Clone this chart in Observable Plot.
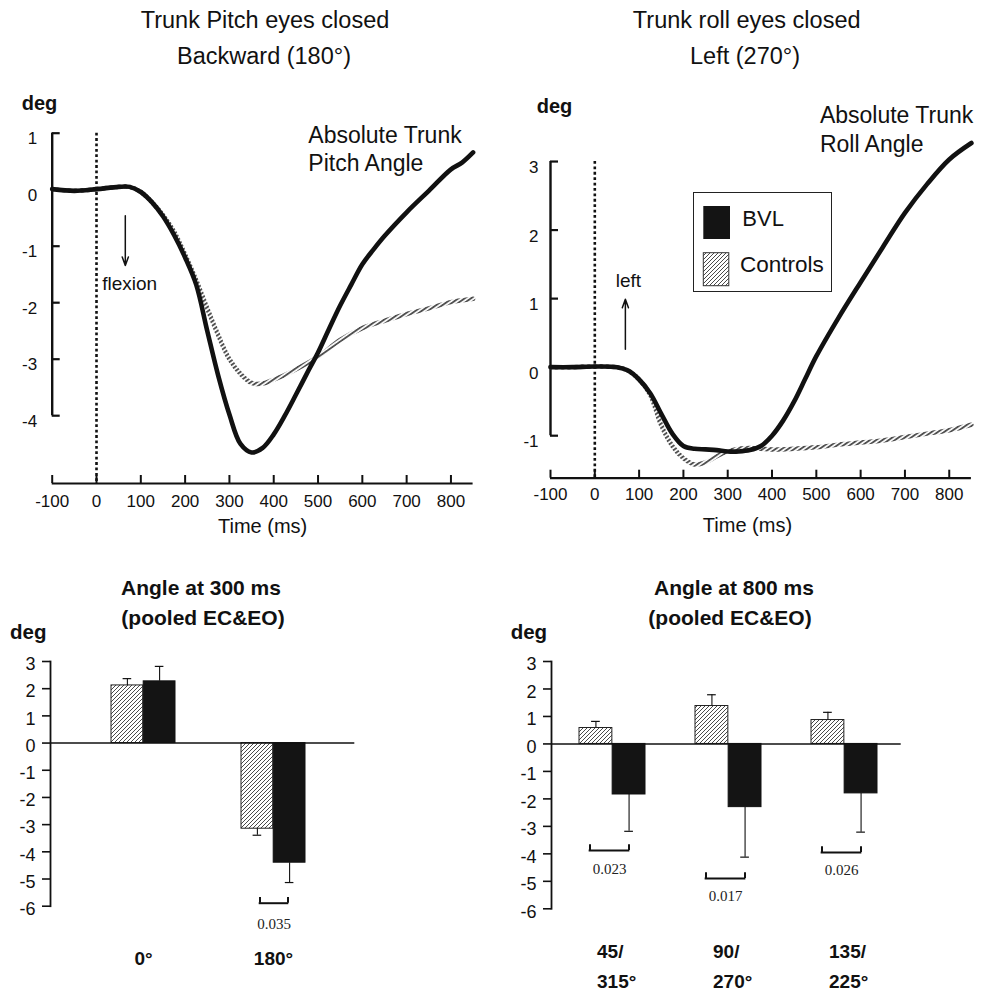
<!DOCTYPE html>
<html>
<head>
<meta charset="utf-8">
<script src="https://cdn.jsdelivr.net/npm/d3@7"></script>
<script src="https://cdn.jsdelivr.net/npm/@observablehq/plot@0.6"></script>
<style>
  body { margin: 0; background: #fff; font-family: "Liberation Sans", Arial, Helvetica, sans-serif; color: #111; }
  #root { position: relative; width: 983px; height: 993px; overflow: hidden; background: #fff; }
  .abs { position: absolute; white-space: nowrap; }
  .panel { position: absolute; }
  .panel svg { overflow: visible; }
</style>
</head>
<body>
<div id="root"></div>
<script>
// ================= DATA =================
// Top-left: trunk pitch (eyes closed, backward 180°)
const pitchBvlT = [-100,-50,0,50,75,100,125,150,175,200,225,250,275,300,325,350,375,400,425,450,475,500,525,550,575,600,625,650,700,750,800,825,850];
const pitchBvl  = [0.01,-0.02,0.01,0.05,0.05,-0.04,-0.22,-0.47,-0.8,-1.2,-1.68,-2.5,-3.3,-3.98,-4.5,-4.65,-4.57,-4.33,-4.0,-3.63,-3.25,-2.88,-2.46,-2.05,-1.68,-1.32,-1.06,-0.82,-0.4,-0.02,0.36,0.48,0.66];
const pitchCtrlT = [-100,-50,0,50,75,100,125,150,175,200,225,250,275,300,325,350,375,400,425,450,500,550,600,650,700,750,800,850];
const pitchCtrl  = [0.01,-0.02,0.01,0.05,0.05,-0.04,-0.22,-0.45,-0.74,-1.15,-1.6,-2.1,-2.58,-3.0,-3.26,-3.42,-3.43,-3.36,-3.28,-3.18,-2.96,-2.66,-2.45,-2.32,-2.2,-2.1,-1.99,-1.93];

// Top-right: trunk roll (eyes closed, left 270°)
const rollBvlT = [-100,-50,0,50,75,100,125,150,175,200,225,250,275,300,325,350,375,400,425,450,475,500,550,600,650,700,750,800,850];
const rollBvl  = [0,0,0.01,0,-0.05,-0.18,-0.38,-0.68,-0.97,-1.15,-1.19,-1.2,-1.21,-1.23,-1.23,-1.21,-1.15,-1.0,-0.78,-0.5,-0.17,0.16,0.72,1.24,1.75,2.25,2.67,3.03,3.27];
const rollCtrlT = [-100,-50,0,50,75,100,125,150,175,200,225,250,275,300,325,350,400,450,500,550,600,650,700,750,800,850];
const rollCtrl  = [0,0,0.01,0,-0.05,-0.18,-0.4,-0.85,-1.15,-1.33,-1.42,-1.39,-1.3,-1.23,-1.19,-1.18,-1.2,-1.19,-1.17,-1.13,-1.1,-1.07,-1.02,-0.97,-0.92,-0.84];

// Ticks
const timeTicks   = [-100,0,100,200,300,400,500,600,700,800];
const pitchYTicks = [1,0,-1,-2,-3,-4];
const rollYTicks  = [3,2,1,0,-1];
const barYTicks   = [3,2,1,0,-1,-2,-3,-4,-5,-6];
const fmt = d => String(d);   // plain hyphen-minus, no decimals

// Bottom-left: angle at 300 ms
const groups300   = ["0°","180°"];
const ctrl300     = [2.12,-3.15];
const ctrlErr300  = [0.25,0.24];
const bvl300      = [2.27,-4.40];
const bvlErr300   = [0.55,0.73];
const pGroups300  = ["180°"];
const pValues300  = ["0.035"];
const pBarY300    = [-5.89];
const pTextY300   = [-6.65];

// Bottom-right: angle at 800 ms
const groups800   = ["45/\n315°","90/\n270°","135/\n225°"];
const ctrl800     = [0.58,1.38,0.87];
const ctrlErr800  = [0.24,0.41,0.28];
const bvl800      = [-1.84,-2.30,-1.80];
const bvlErr800   = [1.34,1.82,1.41];
const pGroups800  = groups800;
const pValues800  = ["0.023","0.017","0.026"];
const pBarY800    = [-3.88,-4.90,-3.95];
const pTextY800   = [-4.57,-5.55,-4.58];

// ================= SETUP =================
const FONT = '"Liberation Sans", Arial, Helvetica, sans-serif';
const root = document.getElementById("root");
const baseStyle = {fontFamily: FONT, color: "#111", background: "transparent", overflow: "visible"};

// shared patterns
const defsSvg = d3.create("svg").attr("width", 0).attr("height", 0)
  .style("position", "absolute").style("left", 0).style("top", 0);
const defs = defsSvg.append("defs");
const hb = defs.append("pattern").attr("id", "hatchBar").attr("patternUnits", "userSpaceOnUse")
  .attr("width", 4).attr("height", 4);
hb.append("rect").attr("width", 4).attr("height", 4).attr("fill", "#fff");
hb.append("path").attr("d", "M-1,1 l2,-2 M0,4 l4,-4 M3,5 l2,-2").attr("stroke", "#4a4a4a").attr("stroke-width", 1);
const hl = defs.append("pattern").attr("id", "hatchLine").attr("patternUnits", "userSpaceOnUse")
  .attr("width", 3.6).attr("height", 3.6).attr("patternTransform", "rotate(-35)");
hl.append("rect").attr("width", 3.6).attr("height", 1.9).attr("fill", "#505050");
root.appendChild(defsSvg.node());

function place(svg, left, top, w, h) {
  const wrap = document.createElement("div");
  wrap.className = "panel";
  wrap.style.left = left + "px"; wrap.style.top = top + "px";
  wrap.style.width = w + "px"; wrap.style.height = h + "px";
  wrap.appendChild(svg);
  root.appendChild(wrap);
}

function label(txt, x, baseline, fs, opt = {}) {
  const el = document.createElement("div");
  el.className = "abs";
  el.textContent = txt;
  el.style.fontSize = fs + "px";
  el.style.lineHeight = fs + "px";
  el.style.top = (baseline - 0.8465 * fs) + "px";
  el.style.left = x + "px";
  if (opt.anchor === "middle") el.style.transform = "translateX(-50%)";
  if (opt.weight) el.style.fontWeight = opt.weight;
  if (opt.family) el.style.fontFamily = opt.family;
  root.appendChild(el);
}

// ================= PANEL 1: pitch =================
{
  const W = 490, H = 460, mL = 51.7, mR = 17.4, mT = 31.4, mB = 67;
  const yDom = [-5.2, 1.2];
  const fw = W - mL - mR, fh = H - mT - mB;
  const svg = Plot.plot({
    width: W, height: H, marginLeft: mL, marginRight: mR, marginTop: mT, marginBottom: mB,
    x: {domain: [-100, 850]},
    y: {domain: yDom},
    style: baseStyle,
    marks: [
      Plot.ruleX([0], {y1: d3.max(pitchYTicks), y2: yDom[0], stroke: "#111", strokeWidth: 2.6, strokeDasharray: "2.8,2.6"}),
      Plot.ruleX([timeTicks[0]], {y1: d3.min(pitchYTicks), y2: d3.max(pitchYTicks), stroke: "#111", strokeWidth: 2.4}),
      Plot.tickY(pitchYTicks, {y: d => d, stroke: "#111", strokeWidth: 2.2, insetRight: fw - 8}),
      Plot.ruleY([yDom[0]], {stroke: "#111", strokeWidth: 2.2}),
      Plot.tickX(timeTicks, {x: d => d, stroke: "#111", strokeWidth: 2, insetTop: fh - 8}),
      Plot.axisX(timeTicks, {tickSize: 0, tickPadding: 11, fontSize: 17, label: null, tickFormat: fmt}),
      Plot.axisY(pitchYTicks, {tickSize: 0, tickPadding: 15, fontSize: 17, label: null, dy: 5.5, tickFormat: fmt}),
      Plot.line(pitchCtrl, {x: pitchCtrlT, y: pitchCtrl, stroke: "url(#hatchLine)", strokeWidth: 4.5, curve: "catmull-rom"}),
      Plot.line(pitchBvl, {x: pitchBvlT, y: pitchBvl, stroke: "#111", strokeWidth: 4.6, curve: "catmull-rom"}),
      Plot.arrow([0], {x1: 65, y1: -0.46, x2: 65, y2: -1.34, stroke: "#111", strokeWidth: 1.5, headLength: 9, headAngle: 40}),
      Plot.text(["flexion"], {x: 13, y: -1.67, text: d => d, textAnchor: "start", fontSize: 19, fill: "#111"}),
      Plot.text(["Absolute Trunk\nPitch Angle"], {x: 478, y: 1.17, text: d => d, textAnchor: "start", lineAnchor: "top", lineHeight: 1.2, fontSize: 23, fill: "#111"}),
      Plot.text(["Time (ms)"], {text: d => d, frameAnchor: "bottom", dy: 49, fontSize: 20, fill: "#111"})
    ]
  });
  place(svg, 0, 90, W, H);
}

// ================= PANEL 2: roll =================
{
  const W = 493, H = 470, mL = 60, mR = 12.1, mT = 26.2, mB = 72.3;
  const yDom = [-1.62, 3.8];
  const fw = W - mL - mR, fh = H - mT - mB;
  const svg = Plot.plot({
    width: W, height: H, marginLeft: mL, marginRight: mR, marginTop: mT, marginBottom: mB,
    x: {domain: [-100, 850]},
    y: {domain: yDom},
    style: baseStyle,
    marks: [
      Plot.ruleX([0], {y1: d3.max(rollYTicks), y2: yDom[0], stroke: "#111", strokeWidth: 2.6, strokeDasharray: "2.8,2.6"}),
      Plot.ruleX([timeTicks[0]], {y1: d3.min(rollYTicks), y2: d3.max(rollYTicks), stroke: "#111", strokeWidth: 2.4}),
      Plot.tickY(rollYTicks, {y: d => d, stroke: "#111", strokeWidth: 2.2, insetRight: fw - 8}),
      Plot.ruleY([yDom[0]], {stroke: "#111", strokeWidth: 2.2}),
      Plot.tickX(timeTicks, {x: d => d, stroke: "#111", strokeWidth: 2, insetTop: fh - 8}),
      Plot.axisX(timeTicks, {tickSize: 0, tickPadding: 9.5, fontSize: 17, label: null, tickFormat: fmt}),
      Plot.axisY(rollYTicks, {tickSize: 0, tickPadding: 12, fontSize: 17, label: null, dy: 6, tickFormat: fmt}),
      Plot.line(rollCtrl, {x: rollCtrlT, y: rollCtrl, stroke: "url(#hatchLine)", strokeWidth: 4.5, curve: "catmull-rom"}),
      Plot.line(rollBvl, {x: rollBvlT, y: rollBvl, stroke: "#111", strokeWidth: 4.6, curve: "catmull-rom"}),
      Plot.arrow([0], {x1: 69, y1: 0.26, x2: 69, y2: 0.99, stroke: "#111", strokeWidth: 1.5, headLength: 9, headAngle: 40}),
      Plot.text(["left"], {x: 76, y: 1.26, text: d => d, fontSize: 19, fill: "#111"}),
      Plot.text(["Absolute Trunk\nRoll Angle"], {x: 508, y: 3.85, text: d => d, textAnchor: "start", lineAnchor: "top", lineHeight: 1.23, fontSize: 23, fill: "#111"}),
      Plot.text(["Time (ms)"], {text: d => d, frameAnchor: "bottom", dy: 54, dx: -13.5, fontSize: 20, fill: "#111"})
    ]
  });
  place(svg, 490, 80, W, H);
}

// ================= bar panel builder =================
function barPanel({groups, ctrl, ctrlErr, bvl, bvlErr, pGroups, pValues, pBarY, pTextY,
                   W, H, mL, mR, mT, mB, pi, po, align, bw, brW, brShift, labelMarks}) {
  const ctrlT = groups.map((g, i) => ({g, v: ctrl[i], e: ctrl[i] + Math.sign(ctrl[i]) * ctrlErr[i]}));
  const bvlT  = groups.map((g, i) => ({g, v: bvl[i],  e: bvl[i]  + Math.sign(bvl[i])  * bvlErr[i]}));
  const br    = pGroups.map((g, i) => ({g, y: pBarY[i], top: pBarY[i] + 0.21, t: pValues[i], ty: pTextY[i]}));
  const q = bw / 4, cap = 4.5;
  const side = (bw - brW) / 2;
  return Plot.plot({
    width: W, height: H, marginLeft: mL, marginRight: mR, marginTop: mT, marginBottom: mB,
    x: {type: "band", domain: groups, paddingInner: pi, paddingOuter: po, align, axis: null},
    y: {domain: [-6, 3]},
    style: baseStyle,
    marks: [
      Plot.barY(ctrlT, {x: "g", y: "v", fill: "url(#hatchBar)", stroke: "#222", strokeWidth: 1, insetRight: bw / 2}),
      Plot.barY(bvlT, {x: "g", y: "v", fill: "#141414", stroke: "#111", strokeWidth: 1, insetLeft: bw / 2}),
      Plot.ruleX(ctrlT, {x: "g", y1: "v", y2: "e", dx: -q, stroke: "#111", strokeWidth: 1.1}),
      Plot.ruleX(bvlT,  {x: "g", y1: "v", y2: "e", dx: q,  stroke: "#111", strokeWidth: 1.1}),
      Plot.tickY(ctrlT, {x: "g", y: "e", insetLeft: q - cap, insetRight: bw - q - cap, stroke: "#111", strokeWidth: 1.2}),
      Plot.tickY(bvlT,  {x: "g", y: "e", insetLeft: 3 * q - cap, insetRight: q - cap, stroke: "#111", strokeWidth: 1.2}),
      Plot.ruleY([0], {stroke: "#111", strokeWidth: 1.6}),
      Plot.frame({anchor: "left", stroke: "#111", strokeWidth: 1.8}),
      Plot.axisY(barYTicks, {tickSize: 8, tickFormat: () => "", strokeWidth: 1.6, label: null}),
      Plot.axisY(barYTicks, {tickSize: 0, tickPadding: 15, fontSize: 18, label: null, dy: 3, tickFormat: fmt}),
      Plot.tickY(br, {x: "g", y: "y", insetLeft: side + brShift, insetRight: side - brShift, stroke: "#111", strokeWidth: 2}),
      Plot.ruleX(br, {x: "g", y1: "y", y2: "top", dx: brShift - brW / 2 + 1, stroke: "#111", strokeWidth: 2}),
      Plot.ruleX(br, {x: "g", y1: "y", y2: "top", dx: brShift + brW / 2 - 1, stroke: "#111", strokeWidth: 2}),
      Plot.text(br, {x: "g", y: "ty", text: "t", dx: brShift, fontFamily: '"Liberation Serif", "Times New Roman", serif', fontSize: 15, fill: "#222"}),
      ...labelMarks(groups)
    ]
  });
}

const catStyle = {frameAnchor: "bottom", fontWeight: "bold", fontSize: 19, fill: "#111"};

// ================= PANEL 3 =================
{
  const svg = barPanel({
    groups: groups300, ctrl: ctrl300, ctrlErr: ctrlErr300, bvl: bvl300, bvlErr: bvlErr300,
    pGroups: pGroups300, pValues: pValues300, pBarY: pBarY300, pTextY: pTextY300,
    W: 400, H: 340, mL: 50, mR: 45.7, mT: 16, mB: 79.3,
    pi: 0.507, po: 0.419, align: 0.55, bw: 64.4, brW: 30, brShift: 0.5,
    labelMarks: (groups) => [Plot.text(groups, {x: d => d, text: d => d, dy: 59, ...catStyle})]
  });
  place(svg, 0, 645, 400, 340);
}

// ================= PANEL 4 =================
{
  const svg = barPanel({
    groups: groups800, ctrl: ctrl800, ctrlErr: ctrlErr800, bvl: bvl800, bvlErr: bvlErr800,
    pGroups: pGroups800, pValues: pValues800, pBarY: pBarY800, pTextY: pTextY800,
    W: 493, H: 340, mL: 61, mR: 82.3, mT: 16, mB: 76.7,
    pi: 0.4294, po: 0.2195, align: 0.535, bw: 66.3, brW: 41, brShift: -3,
    labelMarks: (groups) => [
      Plot.text(groups, {x: d => d, text: d => d.split("\n")[0], dy: 49, dx: -15.5, textAnchor: "start", ...catStyle}),
      Plot.text(groups, {x: d => d, text: d => d.split("\n")[1], dy: 79, dx: -15.5, textAnchor: "start", ...catStyle})
    ]
  });
  place(svg, 490, 645, 493, 340);
}

// ================= TITLES & LABELS =================
label("Trunk Pitch eyes closed", 265, 29, 23.5, {anchor: "middle"});
label("Backward (180°)", 264, 65, 23.5, {anchor: "middle"});
label("Trunk roll eyes closed", 746.7, 29, 23.5, {anchor: "middle"});
label("Left (270°)", 745, 65, 23.5, {anchor: "middle"});
label("deg", 21.7, 110, 20, {weight: "bold"});
label("deg", 536.7, 113, 20, {weight: "bold"});

label("Angle at 300 ms", 201, 595, 21, {anchor: "middle", weight: "bold"});
label("(pooled EC&EO)", 203, 625, 21, {anchor: "middle", weight: "bold"});
label("Angle at 800 ms", 734, 595, 21, {anchor: "middle", weight: "bold"});
label("(pooled EC&EO)", 730, 625, 21, {anchor: "middle", weight: "bold"});
label("deg", 10, 639, 20.5, {weight: "bold"});
label("deg", 510.7, 639, 20.5, {weight: "bold"});

// ================= LEGEND =================
{
  const box = document.createElement("div");
  box.className = "abs";
  Object.assign(box.style, {left: "693.3px", top: "191.7px", width: "137px", height: "98px", border: "1.3px solid #222", background: "#fff"});
  root.appendChild(box);
  const sw = d3.create("svg").attr("width", 30).attr("height", 84)
    .style("position", "absolute").style("left", "702px").style("top", "205px");
  sw.append("rect").attr("x", 1.3).attr("y", 1).attr("width", 26.7).attr("height", 33).attr("fill", "#141414");
  sw.append("rect").attr("x", 1.3).attr("y", 47.7).attr("width", 25.5).attr("height", 33).attr("fill", "url(#hatchBar)").attr("stroke", "#333").attr("stroke-width", 1);
  root.appendChild(sw.node());
  label("BVL", 742.3, 227, 22);
  label("Controls", 740, 273, 22.5);
}
</script>
</body>
</html>
